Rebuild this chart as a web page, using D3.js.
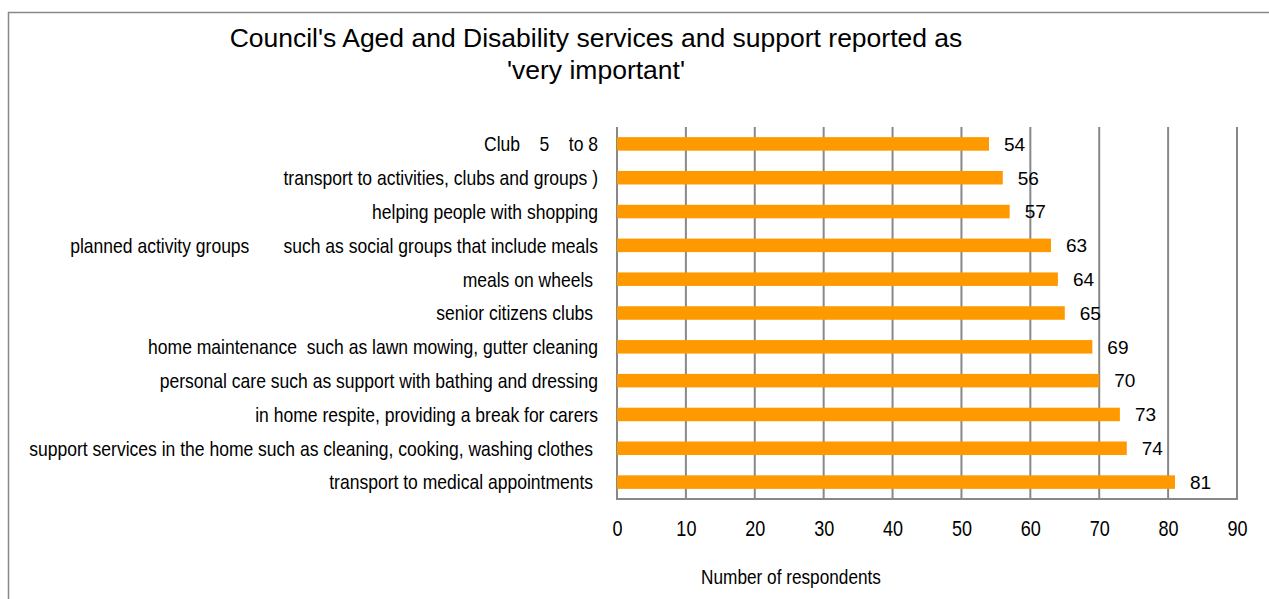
<!DOCTYPE html>
<html>
<head>
<meta charset="utf-8">
<script src="https://cdn.jsdelivr.net/npm/d3@7"></script>
<style>
  html, body { margin: 0; padding: 0; background: #fff; }
  svg { display: block; }
  text { white-space: pre; }
</style>
</head>
<body>
<svg id="chart" width="1269" height="599"></svg>
<script>
// ---- data ----
const categories = [
  "Club    5    to 8",
  "transport to activities, clubs and groups )",
  "helping people with shopping",
  "planned activity groups       such as social groups that include meals",
  "meals on wheels ",
  "senior citizens clubs ",
  "home maintenance  such as lawn mowing, gutter cleaning",
  "personal care such as support with bathing and dressing",
  "in home respite, providing a break for carers",
  "support services in the home such as cleaning, cooking, washing clothes ",
  "transport to medical appointments "
];
const values = [54, 56, 57, 63, 64, 65, 69, 70, 73, 74, 81];
const xTicks = [0, 10, 20, 30, 40, 50, 60, 70, 80, 90];
const titleLines = ["Council's Aged and Disability services and support reported as", "'very important'"];
const xAxisTitle = "Number of respondents";

// ---- layout ----
const svg = d3.select("#chart");
const plotL = 617, plotR = 1237, plotT = 127, plotB = 499;
const regular = "'Liberation Sans', Arial, sans-serif";
const narrowScale = "scale(0.82,1)"; // Arial Narrow look-alike
const labelScale = "scale(0.835,1)";
const grey = "#888888";

// outer frame
svg.append("rect")
  .attr("x", 8.5).attr("y", 12.5)
  .attr("width", 1300).attr("height", 700)
  .attr("fill", "none").attr("stroke", grey).attr("stroke-width", 1.5);

const x = d3.scaleLinear().domain([0, 90]).range([plotL, plotR]);
const y = d3.scaleBand().domain(categories).range([plotT, plotB]).paddingInner(0.6).paddingOuter(0.3);

// title
svg.append("text")
  .attr("x", 596).attr("y", 47)
  .attr("text-anchor", "middle")
  .style("font-family", regular).style("font-size", "26.5px").attr("fill", "#000")
  .selectAll("tspan").data(titleLines).join("tspan")
  .attr("x", 596).attr("dy", (d, i) => i === 0 ? 0 : 32)
  .text(d => d);

// gridlines
svg.append("g").selectAll("line").data(xTicks).join("line")
  .attr("x1", d => x(d)).attr("x2", d => x(d))
  .attr("y1", plotT).attr("y2", plotB)
  .attr("stroke", grey).attr("stroke-width", 2);

// bars
svg.append("g").selectAll("rect").data(values).join("rect")
  .attr("x", x(0))
  .attr("y", (d, i) => y(categories[i]))
  .attr("width", d => x(d) - x(0))
  .attr("height", y.bandwidth())
  .attr("fill", "#ff9900");

// bottom axis line
svg.append("line")
  .attr("x1", x(0) - 1).attr("x2", x(90) + 1)
  .attr("y1", plotB).attr("y2", plotB)
  .attr("stroke", grey).attr("stroke-width", 2);

// x axis with d3 axis (tick labels)
const xAxis = d3.axisBottom(x).tickValues(xTicks).tickSize(0).tickPadding(0).tickFormat(d3.format("d"));
const gx = svg.append("g").attr("transform", `translate(0,${plotB})`).call(xAxis);
gx.select(".domain").remove();
gx.selectAll("text")
  .attr("y", 37).attr("dy", 0)
  .attr("transform", narrowScale)
  .style("font-family", regular).style("font-size", "22px").attr("fill", "#000");

// y axis category labels
const yAxis = d3.axisLeft(y).tickSize(0).tickPadding(0);
const gy = svg.append("g").attr("transform", `translate(598,0)`).call(yAxis);
gy.select(".domain").remove();
gy.selectAll("text")
  .attr("x", 0).attr("dy", "0.35em")
  .attr("transform", labelScale)
  .style("font-family", regular).style("font-size", "21px").attr("fill", "#000")
  .style("white-space", "pre");

// value labels
svg.append("g").selectAll("text").data(values).join("text")
  .attr("x", d => x(d) + 15)
  .attr("y", (d, i) => y(categories[i]) + y.bandwidth() / 2)
  .attr("dy", "0.36em")
  .style("font-family", regular).style("font-size", "19px").attr("fill", "#000")
  .text(d => d);

// axis title
svg.append("g").attr("transform", "translate(791,584)")
  .append("text")
  .attr("text-anchor", "middle")
  .attr("transform", narrowScale)
  .style("font-family", regular).style("font-size", "21px").attr("fill", "#000")
  .text(xAxisTitle);
</script>
</body>
</html>
